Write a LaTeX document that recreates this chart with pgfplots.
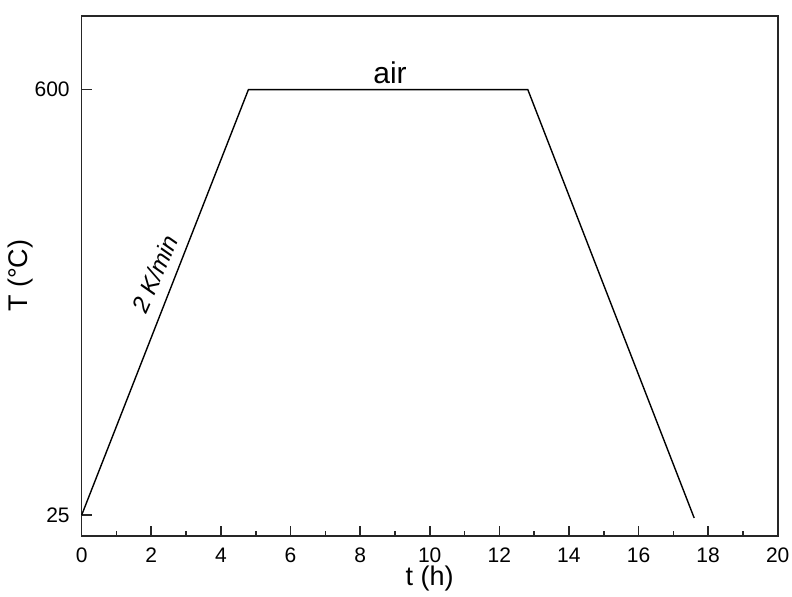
\documentclass[border=0pt]{standalone}
\usepackage{fontspec}
\setmainfont{Liberation Sans}
\usepackage{pgfplots}
\pgfplotsset{compat=1.18}

\begin{document}
\begin{tikzpicture}
\useasboundingbox (-40.85pt,-30.5pt) rectangle (355.15pt,267.85pt);
\begin{axis}[
    scale only axis,
    width=348pt, height=260pt,
    xmin=0, xmax=20, ymin=-3, ymax=700,
    xtick={0,2,...,20},
    minor xtick={1,3,...,19},
    ytick={25,600},
    xtick pos=bottom, ytick pos=left,
    axis line style={line width=0.8pt, black!85},
    tick style={line width=0.8pt, black!85},
    major tick length=5pt, minor tick length=2.5pt,
    tick align=inside,
    ticklabel style={font=\fontsize{10.5}{12}\selectfont},
    xticklabel style={yshift=-2.5pt},
    yticklabel style={xshift=-2.5pt},
    /pgf/number format/assume math mode=true,
    xlabel={t (h)}, ylabel={T (°C)},
    label style={font=\fontsize{13.5}{15}\selectfont},
    xlabel style={yshift=5pt},
    ylabel style={yshift=-6pt},
    clip=false,
]
\addplot[black, line width=0.7pt] coordinates {(0,25) (4.79,600) (12.82,600) (17.6,21)};
\node[font=\fontsize{15}{17}\selectfont] at (axis cs:8.86,623) {air};
\node[font=\fontsize{12}{14}\selectfont\itshape, rotate=66] at (axis cs:2.1,351) {2 K/min};
\end{axis}
\end{tikzpicture}
\end{document}
